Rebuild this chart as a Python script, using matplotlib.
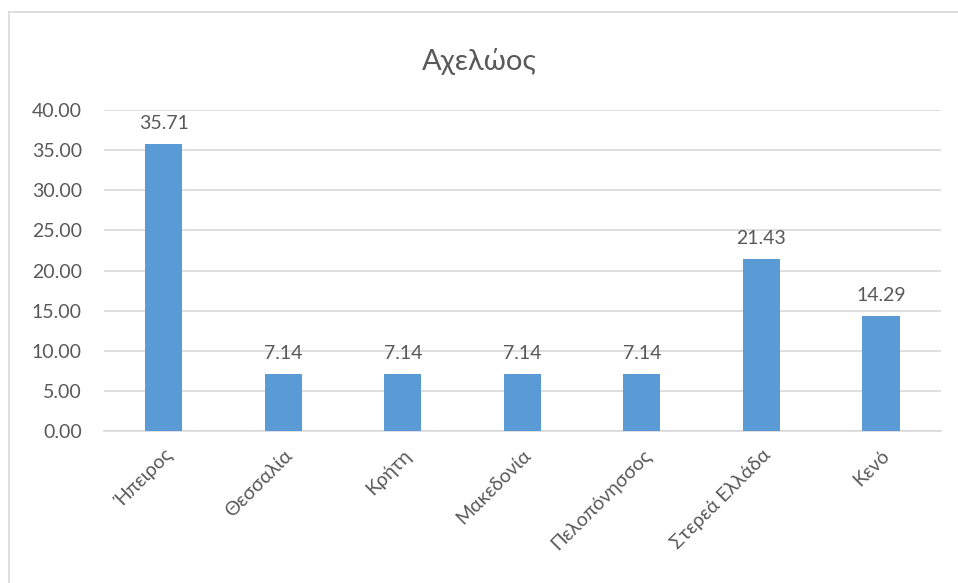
import matplotlib
matplotlib.use("Agg")
import matplotlib.pyplot as plt
from matplotlib.lines import Line2D

categories = ["Ήπειρος", "Θεσσαλία", "Κρήτη", "Μακεδονία", "Πελοπόνησσος", "Στερεά Ελλάδα", "Κενό"]
values = [35.71, 7.14, 7.14, 7.14, 7.14, 21.43, 14.29]
yticks = [0, 5, 10, 15, 20, 25, 30, 35, 40]

plt.rcParams["font.family"] = ["Lato", "DejaVu Sans"]
TXT = "#595959"

fig = plt.figure(figsize=(9.58, 5.83), dpi=100)
ax = fig.add_axes([0.1086, 0.2607, 0.8734, 0.5506])

x = range(len(categories))
bars = ax.bar(x, values, width=0.31, color="#5B9BD5", zorder=3)
for b, v in zip(bars, values):
    ax.text(b.get_x() + b.get_width() / 2, v + 1.5, f"{v:.2f}",
            ha="center", va="bottom", fontsize=14, color=TXT)

ax.set_xlim(-0.5, len(categories) - 0.5)
ax.set_ylim(0, 40)
ax.set_yticks(yticks)
ax.set_yticklabels([f"{t:.2f}" for t in yticks], fontsize=14, color=TXT)
ax.set_xticks(list(x))
ax.set_xticklabels(categories, rotation=45, ha="right", rotation_mode="anchor",
                   fontsize=14, color=TXT)
ax.tick_params(axis="both", length=0)
ax.tick_params(axis="y", pad=16)
ax.tick_params(axis="x", pad=11)
ax.grid(True, axis="y", color="#D9D9D9", linewidth=1.2, zorder=0)
for s in ["top", "right", "left"]:
    ax.spines[s].set_visible(False)
ax.spines["bottom"].set_color("#D9D9D9")
ax.spines["bottom"].set_linewidth(1.2)

fig.text(0.5, 0.895, "Αχελώος", ha="center", va="center", fontsize=21, color=TXT)

# chart frame (only top and left edges visible in the crop)
fig.add_artist(Line2D([9 / 958, 9 / 958], [0, 1 - 12 / 583], transform=fig.transFigure,
                      color="#D9D9D9", linewidth=1.2))
fig.add_artist(Line2D([9 / 958, 1], [1 - 12 / 583, 1 - 12 / 583], transform=fig.transFigure,
                      color="#D9D9D9", linewidth=1.2))

fig.savefig("out.png", dpi=100)
